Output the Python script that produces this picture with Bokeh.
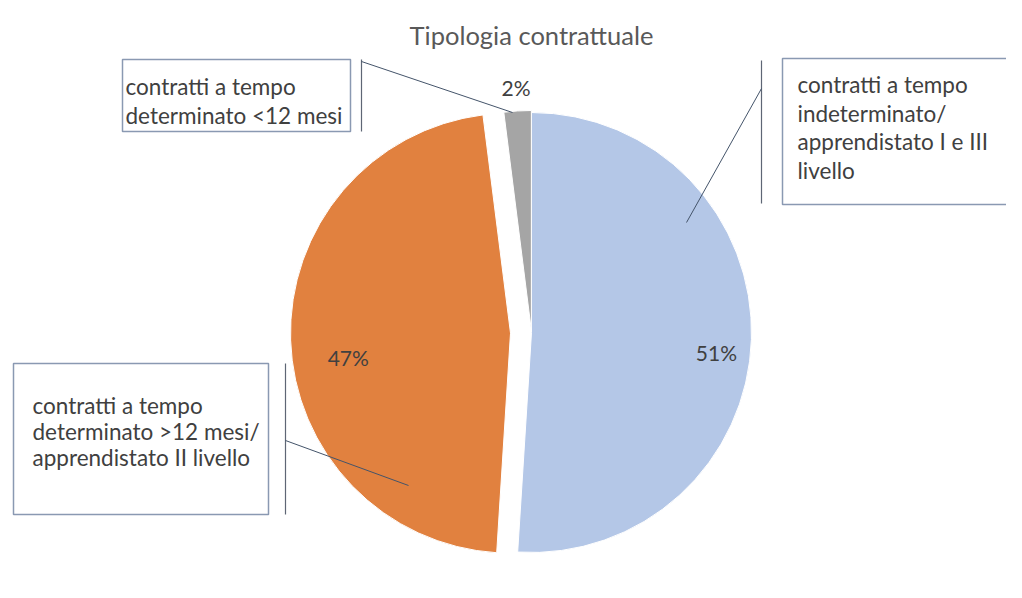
import math
from bokeh.plotting import figure
from bokeh.models import Range1d, ColumnDataSource
from bokeh.core.properties import value
from bokeh.embed import file_html
from bokeh.resources import INLINE

# ---- data ----
title = "Tipologia contrattuale"
categories = [
    "contratti a tempo indeterminato/ apprendistato I e III livello",
    "contratti a tempo determinato >12 mesi/ apprendistato II livello",
    "contratti a tempo determinato <12 mesi",
]
shares = [51, 47, 2]
pct_labels = ["51%", "47%", "2%"]
colors = ["#B4C7E7", "#E1813F", "#A5A5A5"]

box_lines = [
    ["contratti a tempo", "indeterminato/", "apprendistato I e III", "livello"],
    ["contratti a tempo", "determinato >12 mesi/", "apprendistato II livello"],
    ["contratti a tempo", "determinato <12 mesi"],
]

# ---- layout (image pixel coordinates, y downward) ----
W, H = 1006, 582
FONT = "Lato"
cx, cy, R = 531, 332, 220
explode = [0, 21, 2]
label_r = [186, 164, 243]
label_nudge = [-4.4, 6.6, 0.0]  # degrees

p = figure(width=W, height=H, output_backend="svg", toolbar_location=None,
           x_range=Range1d(0, W), y_range=Range1d(-H, 0),
           min_border=0, outline_line_color=None)
p.axis.visible = False
p.grid.visible = False
p.background_fill_color = "white"
p.border_fill_color = "white"

# wedges (clockwise from 12 o'clock)
total = float(sum(shares))
cum = 0.0
wx, wy, a_start, a_end, lx, ly = [], [], [], [], [], []
for i, s in enumerate(shares):
    a0 = math.pi / 2 - 2 * math.pi * cum / total
    cum += s
    a1 = math.pi / 2 - 2 * math.pi * cum / total
    mid = (a0 + a1) / 2
    ox = cx + explode[i] * math.cos(mid)
    oy = -cy + explode[i] * math.sin(mid)
    wx.append(ox); wy.append(oy)
    a_start.append(a1); a_end.append(a0)
    la = mid + math.radians(label_nudge[i])
    lx.append(ox + label_r[i] * math.cos(la))
    ly.append(oy + label_r[i] * math.sin(la))

src = ColumnDataSource(dict(x=wx, y=wy, start=a_start, end=a_end, color=colors,
                            cat=categories, lx=lx, ly=ly, lab=pct_labels))
p.wedge(x="x", y="y", radius=R, start_angle="start", end_angle="end",
        direction="anticlock", fill_color="color", line_color="white",
        line_width=1, source=src)

p.text(x="lx", y="ly", text="lab", source=src, text_font=value(FONT),
       text_font_size="21px", text_color="#404040", text_align="center",
       text_baseline="middle")

# title
p.text(x=[531], y=[-34], text=[title], text_font=value(FONT), text_font_size="25.5px",
       text_color="#595959", text_align="center", text_baseline="middle")

# callout boxes: (left, top, right, bottom), text x, first line y, spacing
boxes = [
    (782, 58, 1040, 204, 797, 84, 28.5),
    (13, 363, 268, 514, 32, 405, 26),
    (122, 59, 350, 131, 125, 86, 29),
]
side_lines = [(761, 60, 203), (285, 363, 514), (361, 59, 131)]
leaders = [((761, 88), (686, 222)), ((285, 440), (408, 485)), ((361, 61), (512, 112))]

for (l, t, r, b, tx, ty, sp), lines in zip(boxes, box_lines):
    p.quad(left=[l], right=[r], top=[-t], bottom=[-b], fill_color="white",
           line_color="#8A99B2", line_width=1.5)
    p.text(x=[tx] * len(lines), y=[-(ty + k * sp) for k in range(len(lines))],
           text=lines, text_font=value(FONT), text_font_size="22.5px",
           text_color="#404040", text_align="left", text_baseline="middle")

for (x, y0, y1) in side_lines:
    p.segment(x0=[x], y0=[-y0], x1=[x], y1=[-y1], line_color="#5E6675", line_width=1.2)

for (a, b) in leaders:
    p.segment(x0=[a[0]], y0=[-a[1]], x1=[b[0]], y1=[-b[1]], line_color="#44546A",
              line_width=1)

open("out.html", "w").write(file_html(p, INLINE))
